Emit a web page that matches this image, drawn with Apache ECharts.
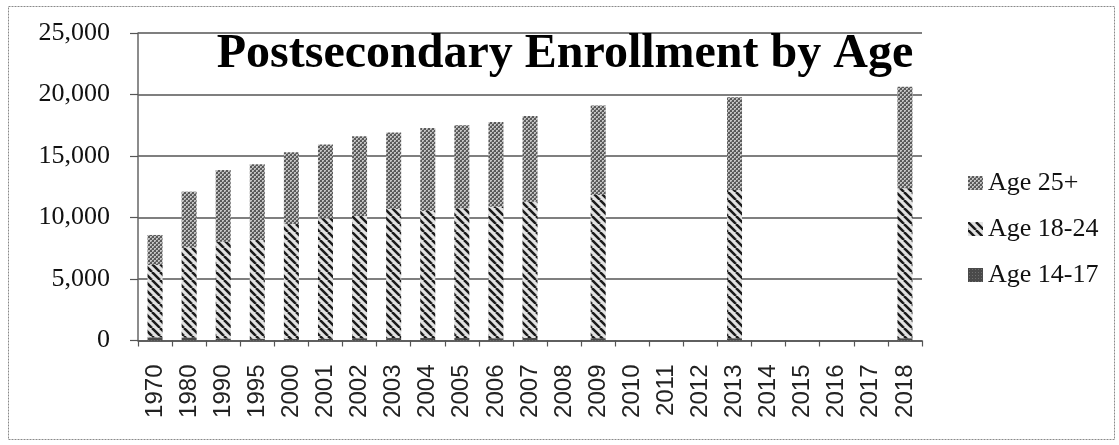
<!DOCTYPE html>
<html>
<head>
<meta charset="utf-8">
<script src="https://cdn.jsdelivr.net/npm/echarts@6/dist/echarts.min.js"></script>
<style>
  html, body { margin: 0; padding: 0; background: #fff; }
  #chart { width: 1119px; height: 445px; }
</style>
</head>
<body>
<div id="chart"></div>
<script>
// Fall enrollment (thousands) by age group
const years = ['1970','1980','1990','1995','2000','2001','2002','2003','2004','2005','2006','2007',
               '2008','2009','2010','2011','2012','2013','2014','2015','2016','2017','2018'];
const age1417 = [260, 250, 160, 150, 130, 150, 190, 200, 200, 200, 190, 210,
                 null, 190, null, null, null, 190, null, null, null, null, 190];
const age1824 = [5880, 7330, 7870, 8020, 9340, 9780, 9930, 10490, 10330, 10550, 10690, 11080,
                 null, 11640, null, null, null, 12050, null, null, null, null, 12180];
const age25plus = [2440, 4520, 5830, 6160, 5840, 6000, 6490, 6220, 6740, 6740, 6880, 6960,
                   null, 7270, null, null, null, 7530, null, null, null, null, 8260];
const yTicks = [0, 5000, 10000, 15000, 20000, 25000];

// Fill patterns for the three stacked segments
function makeTile(size, draw) {
  const c = document.createElement('canvas');
  c.width = size; c.height = size;
  draw(c.getContext('2d'), size);
  return { image: c, repeat: 'repeat' };
}
const hatchFill = makeTile(8, (g, s) => {
  g.fillStyle = '#e2e2e2';
  g.fillRect(0, 0, s, s);
  g.strokeStyle = '#1a1a1a';
  g.lineWidth = 2.5;
  for (let o = -s; o <= s; o += s) {
    g.beginPath();
    g.moveTo(o, 0);
    g.lineTo(o + s, s);
    g.stroke();
  }
});
const speckleFill = makeTile(4, (g) => {
  g.fillStyle = '#c4c4c4';
  g.fillRect(0, 0, 4, 4);
  g.fillStyle = '#5a5a5a';
  g.fillRect(0, 0, 2, 2);
  g.fillRect(2, 2, 2, 2);
  g.fillStyle = '#8a8a8a';
  g.fillRect(1, 3, 1, 1);
  g.fillRect(3, 1, 1, 1);
});
const darkFill = makeTile(3, (g) => {
  g.fillStyle = '#4a4a4a';
  g.fillRect(0, 0, 3, 3);
  g.fillStyle = '#6e6e6e';
  g.fillRect(1, 1, 1, 1);
});

const serif = '"Liberation Serif", "DejaVu Serif", serif';
const sans = '"Liberation Sans", Arial, sans-serif';

const chart = echarts.init(document.getElementById('chart'), null, { renderer: 'canvas' });

const barBase = { type: 'bar', stack: 'enroll', barWidth: 15, emphasis: { disabled: true } };

chart.setOption({
  animation: false,
  backgroundColor: '#fff',
  title: {
    text: 'Postsecondary Enrollment by Age',
    left: 565,
    textAlign: 'center',
    top: 31,
    padding: 0,
    textStyle: { fontFamily: serif, fontWeight: 'bold', fontSize: 48, color: '#000' }
  },
  graphic: [{
    type: 'rect',
    shape: { x: 8.5, y: 6.5, width: 1106, height: 433 },
    style: { fill: 'none', stroke: '#8a8a8a', lineWidth: 1, lineDash: [2, 1] },
    silent: true,
    z: -1
  }],
  legend: {
    orient: 'vertical',
    left: 963,
    top: 165,
    icon: 'rect',
    itemWidth: 15,
    itemHeight: 14,
    itemGap: 20,
    data: ['Age 25+', 'Age 18-24', 'Age 14-17'],
    textStyle: { fontFamily: serif, fontSize: 26, lineHeight: 25, color: '#111' }
  },
  grid: { left: 138, right: 197, top: 33, bottom: 104.5, containLabel: false },
  xAxis: {
    type: 'category',
    data: years,
    axisLine: { lineStyle: { color: '#555', width: 1.5 } },
    axisTick: { show: true, length: 6, lineStyle: { color: '#555', width: 1.2 } },
    axisLabel: { rotate: 90, margin: 24, fontFamily: sans, fontSize: 24, color: '#222' }
  },
  yAxis: {
    type: 'value',
    min: yTicks[0],
    max: yTicks[yTicks.length - 1],
    interval: 5000,
    axisLine: { show: true, lineStyle: { color: '#666', width: 1.5 } },
    axisTick: { show: true, length: 8, lineStyle: { color: '#555', width: 1.2 } },
    splitLine: { lineStyle: { color: '#555', width: 1.5 } },
    axisLabel: {
      margin: 28,
      fontFamily: serif,
      fontSize: 26,
      color: '#111',
      formatter: v => v.toLocaleString('en-US')
    }
  },
  series: [
    Object.assign({}, barBase, { name: 'Age 14-17', data: age1417, itemStyle: { color: darkFill } }),
    Object.assign({}, barBase, { name: 'Age 18-24', data: age1824, itemStyle: { color: hatchFill } }),
    Object.assign({}, barBase, { name: 'Age 25+', data: age25plus, itemStyle: { color: speckleFill } })
  ]
});
</script>
</body>
</html>
